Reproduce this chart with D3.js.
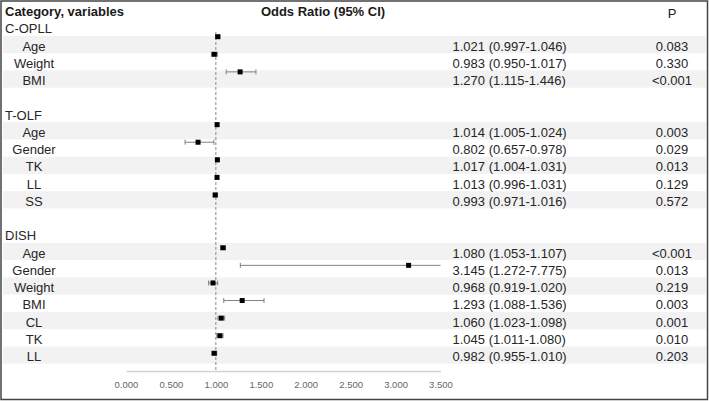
<!DOCTYPE html>
<html>
<head>
<meta charset="utf-8">
<script src="https://cdn.jsdelivr.net/npm/d3@7"></script>
<style>
  html, body { margin: 0; padding: 0; background: #fff; }
  svg { display: block; font-family: "Liberation Sans", Arial, sans-serif; }
</style>
</head>
<body>
<svg id="chart" width="709" height="401"></svg>
<script>
// ---- data ----
const groups = ["C-OPLL", "T-OLF", "DISH"];
const variables = [
  ["Age", "Weight", "BMI"],
  ["Age", "Gender", "TK", "LL", "SS"],
  ["Age", "Gender", "Weight", "BMI", "CL", "TK", "LL"]
];
const oddsRatio = [
  [1.021, 0.983, 1.270],
  [1.014, 0.802, 1.017, 1.013, 0.993],
  [1.080, 3.145, 0.968, 1.293, 1.060, 1.045, 0.982]
];
const ciLower = [
  [0.997, 0.950, 1.115],
  [1.005, 0.657, 1.004, 0.996, 0.971],
  [1.053, 1.272, 0.919, 1.088, 1.023, 1.011, 0.955]
];
const ciUpper = [
  [1.046, 1.017, 1.446],
  [1.024, 0.978, 1.031, 1.031, 1.016],
  [1.107, 7.775, 1.020, 1.536, 1.098, 1.080, 1.010]
];
const pValues = [
  ["0.083", "0.330", "<0.001"],
  ["0.003", "0.029", "0.013", "0.129", "0.572"],
  ["<0.001", "0.013", "0.219", "0.003", "0.001", "0.010", "0.203"]
];
const xTicks = [0, 0.5, 1, 1.5, 2, 2.5, 3, 3.5];
const headers = ["Category, variables", "Odds Ratio (95% CI)", "P"];

// ---- build rows ----
const rows = [];
let idx = 1;
groups.forEach((g, gi) => {
  rows.push({ type: "group", label: g, row: idx++ });
  variables[gi].forEach((v, vi) => {
    rows.push({ type: "var", label: v, row: idx++, k: vi,
      or: oddsRatio[gi][vi], lo: ciLower[gi][vi], hi: ciUpper[gi][vi], p: pValues[gi][vi] });
  });
  if (gi < groups.length - 1) idx++; // blank spacer row
});

const svg = d3.select("#chart");
const W = 709, H = 401;

const yText = d3.scaleLinear().domain([0, 20]).range([10, 355]);
const yMark = d3.scaleLinear().domain([2, 20]).range([36.7, 353.3]);
const x = d3.scaleLinear().domain([0, 3.5]).range([126, 440.5]);
const fmt = d3.format(".3f");

// stripes
svg.append("g").selectAll("rect")
  .data(rows.filter(r => r.type === "var" && r.k % 2 === 0))
  .join("rect")
  .attr("x", 3).attr("width", W - 6)
  .attr("y", d => yText(d.row) - 8.6).attr("height", 17.25)
  .attr("fill", "#f2f2f2");

// header
const hdr = svg.append("g").attr("fill", "#1a1a1a").style("font-size", "13px");
hdr.append("text").attr("x", 5).attr("y", 16).attr("font-weight", "bold").text(headers[0]);
hdr.append("text").attr("x", 323).attr("y", 16).attr("text-anchor", "middle").attr("font-weight", "bold").text(headers[1]);
hdr.append("text").attr("x", 672).attr("y", 18).attr("text-anchor", "middle").text(headers[2]);

// labels
const lab = svg.append("g").style("font-size", "13px").attr("fill", "#262626");
lab.selectAll("text.g").data(rows.filter(r => r.type === "group")).join("text")
  .attr("class", "g").attr("x", 5).attr("y", d => yText(d.row) + 6).text(d => d.label);
lab.selectAll("text.v").data(rows.filter(r => r.type === "var")).join("text")
  .attr("class", "v").attr("x", 34).attr("text-anchor", "middle")
  .attr("y", d => yText(d.row) + 6).text(d => d.label);
lab.selectAll("text.ci").data(rows.filter(r => r.type === "var")).join("text")
  .attr("class", "ci").attr("x", 452.5)
  .attr("y", d => yText(d.row) + 6)
  .text(d => `${fmt(d.or)} (${fmt(d.lo)}-${fmt(d.hi)})`);
lab.selectAll("text.p").data(rows.filter(r => r.type === "var")).join("text")
  .attr("class", "p").attr("x", 672).attr("text-anchor", "middle")
  .attr("y", d => yText(d.row) + 6).text(d => d.p);

// axis
const axisY = 371;
const axis = d3.axisBottom(x).tickValues(xTicks).tickFormat(fmt).tickSize(0).tickPadding(10);
const ag = svg.append("g").attr("transform", `translate(0,${axisY})`).call(axis);
ag.select(".domain").attr("stroke", "#d4d4d4").attr("stroke-width", 1.5);
ag.selectAll("text").attr("fill", "#666").style("font-size", "9.5px")
  .style("font-family", "'Liberation Sans', Arial, sans-serif");

// reference line
svg.append("line")
  .attr("x1", x(1)).attr("x2", x(1)).attr("y1", 32).attr("y2", axisY)
  .attr("stroke", "#8a8a8a").attr("stroke-width", 1).attr("stroke-dasharray", "3,2");

// whiskers
const data = rows.filter(r => r.type === "var");
const cx = v => x(Math.min(v, 3.5));
const wg = svg.append("g").attr("stroke", "#808080").attr("stroke-width", 1);
wg.selectAll("line.w").data(data).join("line").attr("class", "w")
  .attr("x1", d => cx(d.lo)).attr("x2", d => cx(d.hi))
  .attr("y1", d => yMark(d.row)).attr("y2", d => yMark(d.row));
wg.selectAll("line.cl").data(data).join("line").attr("class", "cl")
  .attr("x1", d => x(d.lo)).attr("x2", d => x(d.lo))
  .attr("y1", d => yMark(d.row) - 2.5).attr("y2", d => yMark(d.row) + 2.5);
wg.selectAll("line.cu").data(data.filter(d => d.hi <= 3.5)).join("line").attr("class", "cu")
  .attr("x1", d => x(d.hi)).attr("x2", d => x(d.hi))
  .attr("y1", d => yMark(d.row) - 2.5).attr("y2", d => yMark(d.row) + 2.5);

// points
svg.append("g").selectAll("rect").data(data).join("rect")
  .attr("x", d => x(d.or) - 2.5).attr("y", d => yMark(d.row) - 2.5)
  .attr("width", 5).attr("height", 5).attr("fill", "#000");

// frame
svg.append("rect").attr("x", 1).attr("y", 1).attr("width", W - 2.5).attr("height", H - 2.5)
  .attr("fill", "none").attr("stroke", "#444").attr("stroke-width", 1.5);
</script>
</body>
</html>
